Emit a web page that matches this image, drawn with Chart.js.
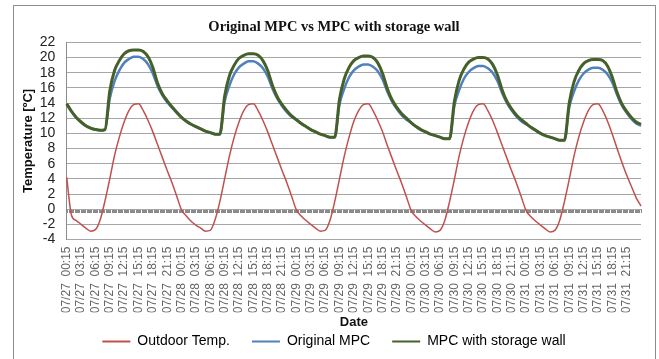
<!DOCTYPE html>
<html>
<head>
  <meta charset="UTF-8">
  <title>Original MPC vs MPC with storage wall</title>
  <script src="https://cdn.jsdelivr.net/npm/chart.js"></script>
  <style>
    body {
      margin: 0;
      background: #fff;
      overflow: hidden;
    }
    #frame {
      position: absolute;
      left: 13px;
      top: 5px;
      width: 641px;
      height: 400px;
      border: 1px solid #8c8c8c;
    }
    #chart {
      position: absolute;
      left: 0;
      top: 0;
    }
  </style>
</head>
<body>
  <div id="frame"></div>
  <canvas id="chart" width="659" height="359"></canvas>

  <script>
    // hourly samples, 07/27 00:15 ... 08/01 00:15
    const days = ['07/27', '07/28', '07/29', '07/30', '07/31', '08/01'];

    const outdoorTemp = [
      4.2, -0.8, -1.5, -2.0, -2.5, -2.9, -2.7, -1.4, 1.1, 4.0, 7.1, 9.5, 11.5, 13.0, 13.8, 13.9, 13.0, 11.7, 10.2, 8.5, 6.8, 5.1, 3.5, 1.7,
      -0.1, -0.9, -1.6, -2.1, -2.5, -2.9, -2.8, -1.4, 1.0, 4.0, 7.0, 9.5, 11.5, 13.0, 13.8, 13.9, 13.0, 11.7, 10.2, 8.5, 6.8, 5.1, 3.5, 1.7,
      -0.1, -0.9, -1.5, -2.0, -2.5, -2.9, -2.8, -1.5, 1.0, 4.0, 7.0, 9.5, 11.6, 13.0, 13.8, 13.9, 13.0, 11.7, 10.2, 8.4, 6.7, 5.0, 3.4, 1.6,
      -0.2, -1.0, -1.6, -2.1, -2.6, -3.0, -2.8, -1.5, 1.0, 3.9, 7.0, 9.5, 11.5, 13.0, 13.8, 13.9, 13.0, 11.7, 10.1, 8.4, 6.7, 5.0, 3.4, 1.6,
      -0.2, -1.0, -1.6, -2.1, -2.6, -3.0, -2.8, -1.5, 1.0, 3.9, 7.0, 9.5, 11.5, 13.0, 13.8, 13.9, 13.0, 11.6, 9.9, 8.0, 6.2, 4.5, 3.0, 1.5,
      0.4
    ];

    const originalMpc = [
      13.9, 12.9, 12.1, 11.5, 11.0, 10.7, 10.5, 10.4, 10.5, 14.6, 16.9, 18.3, 19.3, 19.8, 20.1, 20.1, 19.8, 19.1, 17.9, 16.2, 15.0, 14.1, 13.4, 12.7,
      12.1, 11.6, 11.2, 10.9, 10.6, 10.3, 10.1, 9.9, 9.9, 14.2, 16.3, 17.8, 18.7, 19.2, 19.5, 19.5, 19.2, 18.6, 17.5, 15.9, 14.6, 13.6, 12.8, 12.2,
      11.8, 11.3, 10.9, 10.5, 10.2, 9.9, 9.7, 9.5, 9.5, 13.8, 15.9, 17.4, 18.3, 18.8, 19.1, 19.1, 18.8, 18.2, 17.1, 15.5, 14.2, 13.2, 12.4, 11.8,
      11.4, 10.9, 10.5, 10.2, 9.9, 9.7, 9.5, 9.3, 9.3, 13.6, 15.7, 17.2, 18.1, 18.6, 18.9, 18.9, 18.6, 18.0, 16.9, 15.3, 14.0, 13.0, 12.2, 11.6,
      11.2, 10.8, 10.4, 10.0, 9.7, 9.5, 9.3, 9.1, 9.1, 13.4, 15.5, 17.0, 17.9, 18.4, 18.65, 18.65, 18.4, 17.8, 16.7, 15.1, 13.7, 12.7, 11.9, 11.3,
      11.0
    ];

    const storageWall = [
      13.9, 12.9, 12.1, 11.5, 11.0, 10.7, 10.5, 10.4, 10.5, 15.6, 18.3, 19.6, 20.5, 20.9, 21.0, 21.0, 20.8, 20.1, 18.7, 16.6, 15.2, 14.3, 13.5, 12.8,
      12.1, 11.6, 11.2, 10.9, 10.6, 10.3, 10.1, 9.9, 9.9, 14.9, 17.6, 19.0, 19.9, 20.3, 20.5, 20.5, 20.3, 19.6, 18.3, 16.3, 14.8, 13.8, 13.0, 12.3,
      11.8, 11.3, 10.9, 10.5, 10.2, 9.9, 9.7, 9.5, 9.5, 14.5, 17.2, 18.7, 19.6, 20.0, 20.2, 20.2, 20.0, 19.3, 17.9, 15.9, 14.4, 13.4, 12.6, 12.0,
      11.4, 10.9, 10.5, 10.2, 9.9, 9.7, 9.5, 9.3, 9.3, 14.2, 17.0, 18.5, 19.4, 19.8, 20.0, 20.0, 19.8, 19.1, 17.7, 15.7, 14.2, 13.2, 12.4, 11.8,
      11.3, 10.8, 10.4, 10.0, 9.7, 9.5, 9.3, 9.1, 9.1, 14.0, 16.8, 18.3, 19.2, 19.6, 19.75, 19.75, 19.6, 18.9, 17.4, 15.4, 13.9, 12.9, 12.1, 11.5,
      11.2
    ];

    const labels = [];
    for (let i = 0; i < outdoorTemp.length; i++) {
      const d = days[Math.floor(i / 24)];
      const h = String(i % 24).padStart(2, '0');
      labels.push(d + '  ' + h + ':15');
    }

    const seriesNames = ['Outdoor Temp.', 'Original MPC', 'MPC with storage wall'];
    const seriesColors = ['#c0504d', '#4f81bd', '#46602a'];

    const sans = "'Liberation Sans', Arial, sans-serif";

    const ctx = document.getElementById('chart').getContext('2d');
    const chart = new Chart(ctx, {
      type: 'line',
      data: {
        labels: labels,
        datasets: [{
          label: seriesNames[0],
          data: outdoorTemp,
          borderColor: seriesColors[0],
          backgroundColor: seriesColors[0],
          borderWidth: 1.5,
          order: 2
        },
        {
          label: seriesNames[1],
          data: originalMpc,
          borderColor: seriesColors[1],
          backgroundColor: seriesColors[1],
          borderWidth: 2.5,
          order: 1
        },
        {
          label: seriesNames[2],
          data: storageWall,
          borderColor: seriesColors[2],
          backgroundColor: seriesColors[2],
          borderWidth: 3,
          order: 0
        }]
      },
      options: {
        responsive: false,
        animation: false,
        devicePixelRatio: 1,
        layout: { padding: { left: 27, right: 18, top: 0, bottom: 0.5 } },
        elements: {
          point: { radius: 0 },
          line: { cubicInterpolationMode: 'monotone' }
        },
        scales: {
          x: {
            type: 'category',
            grid: { display: false, drawTicks: false },
            border: { display: false },
            afterFit: (s) => { s.height = 73; },
            ticks: {
              autoSkip: false,
              minRotation: 90,
              maxRotation: 90,
              padding: 7,
              color: '#666',
              font: { family: sans, size: 12 },
              callback: (v, i) => (i % 3 === 0 && i < 120) ? labels[i] : null
            },
            title: {
              display: true,
              text: 'Date',
              color: '#111',
              font: { family: sans, size: 13, weight: 'bold', lineHeight: 1.0 },
              padding: { top: 0, bottom: -16 }
            }
          },
          // the horizontal axis crosses at 0 with a tick every sample
          x2: {
            type: 'linear',
            axis: 'x',
            position: { y: 0 },
            min: 0,
            max: 120,
            grid: { drawOnChartArea: false, drawTicks: true, tickLength: 4, color: '#8a8a8a', lineWidth: 1 },
            border: { display: false },
            ticks: { display: false, stepSize: 0.25 }
          },
          y: {
            min: -4,
            max: 22,
            grid: { color: '#a6a6a6', drawTicks: false },
            border: { color: '#8c8c8c' },
            afterFit: (s) => { s.width = 39.7; },
            ticks: {
              stepSize: 2,
              autoSkip: false,
              padding: 11.5,
              color: '#222',
              font: { family: sans, size: 14 }
            },
            title: {
              display: true,
              text: 'Temperature [ºC]',
              color: '#111',
              font: { family: sans, size: 13, weight: 'bold' },
              padding: { top: -6.8, bottom: 0 }
            }
          }
        },
        plugins: {
          title: {
            display: true,
            text: 'Original MPC vs MPC with storage wall',
            color: '#111',
            font: { family: "'Liberation Serif', 'Times New Roman', serif", size: 14.5, weight: 'bold' },
            padding: { top: 19, bottom: 6 }
          },
          legend: {
            position: 'bottom',
            labels: {
              boxWidth: 28,
              boxHeight: 2,
              padding: 22,
              color: '#333',
              font: { family: sans, size: 14 },
              generateLabels: (c) => c.data.datasets.map((ds, i) => ({
                text: ds.label,
                fillStyle: ds.borderColor,
                strokeStyle: ds.borderColor,
                lineWidth: 0,
                datasetIndex: i
              }))
            }
          },
          tooltip: { enabled: false }
        }
      }
    });
  </script>
</body>
</html>
